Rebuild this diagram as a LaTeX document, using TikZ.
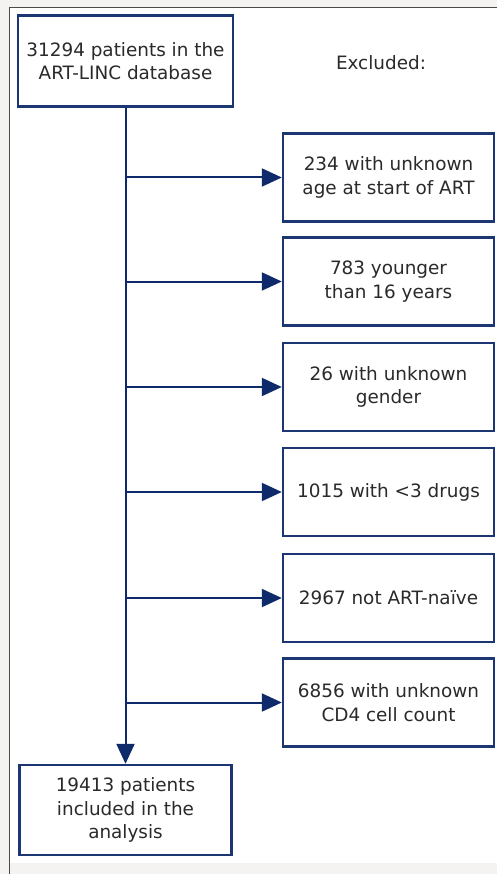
\documentclass[tikz,border=0pt]{standalone}
\usepackage{fontspec}
\setmainfont{DejaVu Sans}
\usetikzlibrary{arrows.meta}
\definecolor{navy}{HTML}{1C3573}
\definecolor{arrowblue}{HTML}{0F2A6A}
\definecolor{txt}{HTML}{2A2A2A}
\definecolor{bggray}{HTML}{F4F3F1}
\definecolor{framegray}{HTML}{4A4A4A}
\tikzset{
  flowbox/.style={draw=navy, line width=2.4pt, fill=white, rectangle, inner sep=0pt,
    align=center, text=txt, font=\fontsize{18.4}{23.5}\selectfont},
  mainbox/.style={flowbox, minimum width=215pt, minimum height=91pt},
  exbox/.style={flowbox, minimum width=211pt, minimum height=88pt},
  conn/.style={draw=arrowblue, line width=2pt},
  arr/.style={conn, -{Triangle[length=20pt,width=18pt]}},
}
\begin{document}
\begin{tikzpicture}[x=1pt,y=-1pt]
\useasboundingbox (0,0) rectangle (497,874);
\fill[bggray] (0,0) rectangle (497,874);
\fill[white] (10,8) rectangle (497,863);
\draw[framegray, line width=1.6pt] (9.5,874) -- (9.5,7.5) -- (497,7.5);

\node[mainbox] (top) at (125.5,61) {31294 patients in the\\ART-LINC database};
\node[mainbox, minimum width=212pt, minimum height=90pt] (bot) at (125.5,810) {19413 patients\\included in the\\analysis};
\node[text=txt, font=\fontsize{18.4}{23.5}\selectfont] (exlabel) at (381,63) {Excluded:};

\node[exbox] (e1) at (388.5,177.5) {234 with unknown\\age at start of ART};
\node[exbox] (e2) at (388.5,281.5) {783 younger\\than 16 years};
\node[exbox] (e3) at (388.5,387) {26 with unknown\\gender};
\node[exbox] (e4) at (388.5,492) {1015 with <3 drugs};
\node[exbox] (e5) at (388.5,598) {2967 not ART-naïve};
\node[exbox] (e6) at (388.5,702.5) {6856 with unknown\\CD4 cell count};

\draw[arr] (top.south) -- (bot.north);
\foreach \i in {1,...,6} {
  \coordinate (j\i) at (top.south |- e\i.west);
  \draw[arr] (j\i) -- (e\i.west);
}
\end{tikzpicture}
\end{document}
